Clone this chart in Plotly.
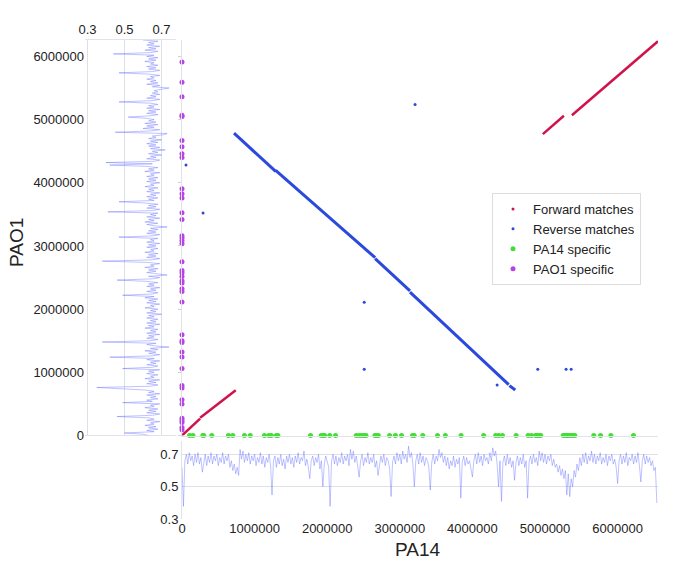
import numpy as np
import plotly.graph_objects as go

W, H = 685, 572
FONT = 'Liberation Sans, Arial, Helvetica, sans-serif'

# match segments: start (PA14, PAO1) -> end (PA14, PAO1)
fwd_x0 = [0, 250000, 4970000, 5370000]
fwd_y0 = [0, 280000, 4770000, 5070000]
fwd_x1 = [250000, 740000, 5260000, 6556000]
fwd_y1 = [268000, 715000, 5060000, 6240000]

rev_x0 = [716000, 1290000, 2660000, 3140000, 4510000]
rev_y0 = [4786000, 4195000, 2800000, 2270000, 790000]
rev_x1 = [1290000, 2660000, 3140000, 4500000, 4590000]
rev_y1 = [4180000, 2815000, 2290000, 805000, 720000]

# isolated reverse hits
rev_dot_x = [55000, 290000, 3210000, 2510000, 2510000, 4340000, 4900000, 5290000, 5360000]
rev_dot_y = [4280000, 3520000, 5240000, 2110000, 1050000, 800000, 1050000, 1050000, 1050000]

# strain specific regions
pa14_specific = [104000, 151000, 287000, 300000, 410000, 640000, 700000, 860000, 940000,
                 1135000, 1196000, 1230000, 1300000, 1320000, 1770000, 1917000, 1950000,
                 1964000, 2035000, 2115000, 2400000, 2445000, 2478000, 2506000, 2534000,
                 2657000, 2680000, 2704000, 2859000, 2939000, 3024000, 3175000, 3198000,
                 3316000, 3519000, 3627000, 3844000, 4155000, 4320000, 4362000, 4414000,
                 4602000, 4767000, 4814000, 4870000, 4894000, 4918000, 4941000, 5250000,
                 5270000, 5290000, 5310000, 5330000, 5350000, 5370000, 5390000, 5410000,
                 5671000, 5765000, 5907000, 6218000]
pao1_specific = [5910000, 5590000, 5360000, 5070000, 5050000, 4670000, 4570000, 4460000,
                 4400000, 3905000, 3826000, 3758000, 3525000, 3420000, 3161000, 3125000,
                 3082000, 3035000, 2750000, 2612000, 2571000, 2517000, 2449000, 2413000,
                 2322000, 2280000, 2112000, 1594000, 1499000, 1472000, 1320000, 1241000,
                 1061000, 790000, 750000, 565000, 500000, 275000, 237000, 206000, 127000,
                 90000]

# GC content, 20 kb windows
gc_step = 20000
gc_pa14 = [0.62, 0.38, 0.66, 0.70, 0.64, 0.71, 0.66, 0.69, 0.63, 0.70,
           0.65, 0.71, 0.64, 0.68, 0.59, 0.66, 0.70, 0.63, 0.69, 0.65,
           0.71, 0.64, 0.69, 0.66, 0.70, 0.63, 0.68, 0.65, 0.71, 0.64,
           0.69, 0.66, 0.70, 0.62, 0.66, 0.60, 0.64, 0.58, 0.62, 0.57,
           0.73, 0.67, 0.72, 0.65, 0.70, 0.66, 0.71, 0.64, 0.69, 0.66,
           0.70, 0.63, 0.68, 0.65, 0.71, 0.64, 0.69, 0.62, 0.68, 0.65,
           0.70, 0.63, 0.45, 0.66, 0.69, 0.62, 0.68, 0.64, 0.70, 0.63,
           0.67, 0.61, 0.69, 0.65, 0.70, 0.64, 0.68, 0.62, 0.69, 0.65,
           0.71, 0.64, 0.68, 0.66, 0.72, 0.63, 0.67, 0.62, 0.55, 0.66,
           0.69, 0.63, 0.68, 0.65, 0.70, 0.61, 0.66, 0.50, 0.64, 0.69,
           0.65, 0.62, 0.38, 0.66, 0.70, 0.64, 0.69, 0.63, 0.68, 0.65,
           0.71, 0.64, 0.69, 0.66, 0.70, 0.63, 0.73, 0.67, 0.72, 0.65,
           0.69, 0.62, 0.56, 0.66, 0.70, 0.63, 0.68, 0.65, 0.71, 0.64,
           0.68, 0.65, 0.70, 0.62, 0.66, 0.57, 0.64, 0.69, 0.65, 0.70,
           0.63, 0.68, 0.66, 0.61, 0.44, 0.65, 0.69, 0.64, 0.71, 0.66,
           0.70, 0.64, 0.72, 0.67, 0.70, 0.65, 0.75, 0.68, 0.71, 0.64,
           0.50, 0.66, 0.70, 0.64, 0.71, 0.65, 0.69, 0.63, 0.68, 0.66,
           0.62, 0.48, 0.65, 0.70, 0.64, 0.69, 0.66, 0.73, 0.68, 0.71,
           0.65, 0.69, 0.63, 0.68, 0.61, 0.66, 0.63, 0.69, 0.62, 0.67,
           0.64, 0.68, 0.43, 0.65, 0.69, 0.63, 0.68, 0.64, 0.66, 0.61,
           0.56, 0.66, 0.70, 0.64, 0.71, 0.65, 0.69, 0.63, 0.70, 0.66,
           0.68, 0.64, 0.71, 0.66, 0.74, 0.69, 0.72, 0.64, 0.50, 0.66,
           0.41, 0.65, 0.69, 0.63, 0.70, 0.64, 0.68, 0.62, 0.66, 0.54,
           0.65, 0.69, 0.63, 0.68, 0.64, 0.70, 0.62, 0.66, 0.43, 0.65,
           0.69, 0.64, 0.70, 0.65, 0.68, 0.63, 0.72, 0.66, 0.71, 0.65,
           0.70, 0.64, 0.69, 0.66, 0.70, 0.63, 0.67, 0.62, 0.64, 0.59,
           0.63, 0.57, 0.61, 0.55, 0.60, 0.45, 0.58, 0.44, 0.55, 0.50,
           0.60, 0.56, 0.64, 0.60, 0.68, 0.63, 0.70, 0.65, 0.71, 0.64,
           0.69, 0.66, 0.72, 0.65, 0.70, 0.64, 0.69, 0.66, 0.71, 0.64,
           0.68, 0.65, 0.70, 0.63, 0.69, 0.66, 0.70, 0.64, 0.67, 0.62,
           0.52, 0.66, 0.70, 0.64, 0.69, 0.65, 0.71, 0.63, 0.68, 0.66,
           0.70, 0.64, 0.69, 0.65, 0.71, 0.63, 0.53, 0.66, 0.70, 0.64,
           0.69, 0.65, 0.68, 0.63, 0.66, 0.60, 0.62, 0.40]
gc_pao1 = [0.63, 0.60, 0.50, 0.66, 0.62, 0.68, 0.63, 0.67, 0.61, 0.66,
           0.64, 0.69, 0.62, 0.66, 0.63, 0.46, 0.65, 0.69, 0.62, 0.67,
           0.63, 0.68, 0.61, 0.66, 0.64, 0.69, 0.49, 0.65, 0.62, 0.68,
           0.64, 0.67, 0.62, 0.69, 0.63, 0.66, 0.61, 0.43, 0.35, 0.64,
           0.68, 0.62, 0.67, 0.63, 0.69, 0.61, 0.66, 0.64, 0.68, 0.62,
           0.66, 0.63, 0.69, 0.49, 0.65, 0.68, 0.62, 0.67, 0.64, 0.69,
           0.62, 0.66, 0.42, 0.65, 0.69, 0.63, 0.67, 0.61, 0.68, 0.64,
           0.74, 0.66, 0.62, 0.67, 0.38, 0.64, 0.68, 0.62, 0.66, 0.63,
           0.69, 0.62, 0.67, 0.64, 0.68, 0.61, 0.66, 0.63, 0.69, 0.62,
           0.67, 0.64, 0.68, 0.62, 0.66, 0.63, 0.70, 0.62, 0.67, 0.64,
           0.68, 0.61, 0.66, 0.64, 0.69, 0.62, 0.67, 0.63, 0.68, 0.61,
           0.66, 0.49, 0.65, 0.68, 0.62, 0.67, 0.64, 0.69, 0.62, 0.66,
           0.63, 0.68, 0.62, 0.46, 0.65, 0.69, 0.63, 0.73, 0.66, 0.62,
           0.67, 0.63, 0.68, 0.61, 0.66, 0.64, 0.69, 0.62, 0.38, 0.65,
           0.69, 0.62, 0.67, 0.63, 0.68, 0.61, 0.66, 0.64, 0.68, 0.62,
           0.67, 0.63, 0.69, 0.62, 0.66, 0.64, 0.68, 0.47, 0.65, 0.69,
           0.62, 0.67, 0.63, 0.68, 0.64, 0.73, 0.66, 0.62, 0.68, 0.61,
           0.66, 0.63, 0.69, 0.62, 0.67, 0.64, 0.68, 0.41, 0.65, 0.69,
           0.62, 0.67, 0.63, 0.68, 0.61, 0.47, 0.66, 0.63, 0.68, 0.62,
           0.67, 0.64, 0.69, 0.62, 0.66, 0.63, 0.68, 0.61, 0.66, 0.64,
           0.69, 0.62, 0.67, 0.63, 0.68, 0.62, 0.66, 0.64, 0.69, 0.61,
           0.66, 0.63, 0.68, 0.62, 0.42, 0.65, 0.40, 0.66, 0.69, 0.62,
           0.67, 0.64, 0.70, 0.63, 0.68, 0.65, 0.72, 0.64, 0.69, 0.63,
           0.67, 0.62, 0.68, 0.64, 0.70, 0.63, 0.67, 0.65, 0.71, 0.73,
           0.45, 0.64, 0.69, 0.60, 0.66, 0.62, 0.68, 0.61, 0.67, 0.63,
           0.66, 0.62, 0.52, 0.64, 0.68, 0.62, 0.67, 0.63, 0.69, 0.62,
           0.66, 0.63, 0.68, 0.64, 0.47, 0.65, 0.69, 0.62, 0.67, 0.64,
           0.69, 0.65, 0.68, 0.66, 0.70, 0.74, 0.65, 0.69, 0.62, 0.68,
           0.64, 0.67, 0.62, 0.66, 0.64, 0.69, 0.63, 0.47, 0.65, 0.69,
           0.63, 0.67, 0.62, 0.68, 0.64, 0.66, 0.61, 0.67, 0.63, 0.68,
           0.62, 0.66, 0.44, 0.64, 0.68, 0.61, 0.67, 0.63, 0.69, 0.62,
           0.66, 0.63, 0.68, 0.60]

pos_ticks = [0, 1000000, 2000000, 3000000, 4000000, 5000000, 6000000]
gc_ticks = [0.3, 0.5, 0.7]

pa14_pos = np.arange(len(gc_pa14)) * gc_step
pao1_pos = np.arange(len(gc_pao1)) * gc_step


def segments(x0, y0, x1, y1):
    xs, ys = [], []
    for a, b, c, d in zip(x0, y0, x1, y1):
        xs += [a, c, None]
        ys += [b, d, None]
    return xs, ys


RED = '#d0134a'
BLUE = '#2b49dc'
GREEN = '#45dc38'
PURPLE = '#b743e8'
GC_LINE = 'rgba(95,105,255,0.5)'
GRID = '#dfdfe8'
LINE = '#e2e2ea'

fig = go.Figure()

fig.add_trace(go.Scatter(x=gc_pao1, y=pao1_pos, mode='lines', xaxis='x2', yaxis='y2',
                         line=dict(color=GC_LINE, width=0.8), showlegend=False, hoverinfo='skip'))
fig.add_trace(go.Scatter(x=pa14_pos, y=gc_pa14, mode='lines', xaxis='x3', yaxis='y3',
                         line=dict(color=GC_LINE, width=0.8), showlegend=False, hoverinfo='skip'))

fx, fy = segments(fwd_x0, fwd_y0, fwd_x1, fwd_y1)
fig.add_trace(go.Scatter(x=fx, y=fy, mode='lines', line=dict(color=RED, width=2.5),
                         showlegend=False, cliponaxis=False))
rx, ry = segments(rev_x0, rev_y0, rev_x1, rev_y1)
fig.add_trace(go.Scatter(x=rx, y=ry, mode='lines', line=dict(color=BLUE, width=3),
                         showlegend=False))
fig.add_trace(go.Scatter(x=rev_dot_x, y=rev_dot_y, mode='markers',
                         marker=dict(color=BLUE, size=3), showlegend=False))

# legend entries for the match traces
fig.add_trace(go.Scatter(x=[None], y=[None], mode='markers', name='Forward matches',
                         marker=dict(color=RED, size=3)))
fig.add_trace(go.Scatter(x=[None], y=[None], mode='markers', name='Reverse matches',
                         marker=dict(color=BLUE, size=3)))

fig.add_trace(go.Scatter(x=pa14_specific, y=[0] * len(pa14_specific), mode='markers',
                         name='PA14 specific', marker=dict(color=GREEN, size=5),
                         cliponaxis=False))
fig.add_trace(go.Scatter(x=[0] * len(pao1_specific), y=pao1_specific, mode='markers',
                         name='PAO1 specific', marker=dict(color=PURPLE, size=5),
                         cliponaxis=False))

x_dom = [182 / W, 658 / W]
y_dom = [1 - 435.5 / H, 1 - 40 / H]
x_rng = [0, 6556000]
y_rng = [0, 6260000]
tickfont = dict(family=FONT, size=13, color='#222')

fig.update_layout(
    width=W, height=H,
    margin=dict(l=0, r=0, t=0, b=0, autoexpand=False),
    plot_bgcolor='white', paper_bgcolor='white',
    font=dict(family=FONT, color='#222'),
    xaxis=dict(domain=x_dom, range=x_rng, anchor='y', showticklabels=False, showgrid=False,
               zeroline=False, showline=True, linecolor=LINE, linewidth=1, automargin=False),
    yaxis=dict(domain=y_dom, range=y_rng, anchor='x', showticklabels=False, showgrid=False,
               zeroline=False, showline=True, linecolor=LINE, linewidth=1, automargin=False,
               ticks='outside', ticklen=3, tickcolor='#d0d0d8', tickvals=pos_ticks),
    xaxis2=dict(domain=[85 / W, 176 / W], range=[0.2865, 0.778], anchor='y2', side='top',
                tickvals=gc_ticks, tickfont=tickfont, showgrid=True, gridcolor=GRID,
                zeroline=False, showline=True, linecolor=LINE, automargin=False),
    yaxis2=dict(domain=y_dom, range=y_rng, anchor='x2', tickvals=pos_ticks, tickformat='d',
                tickfont=tickfont, showgrid=False, zeroline=True, zerolinecolor=LINE,
                zerolinewidth=1, showline=False, automargin=False),
    xaxis3=dict(domain=x_dom, range=x_rng, anchor='y3', tickvals=pos_ticks, tickformat='d',
                tickfont=tickfont, showgrid=False, zeroline=False, showline=False,
                automargin=False),
    yaxis3=dict(domain=[1 - 519.3 / H, 1 - 441.3 / H], range=[0.3, 0.78], anchor='x3',
                tickvals=gc_ticks, tickfont=tickfont, showgrid=True, gridcolor=GRID,
                zeroline=False, showline=True, linecolor=LINE, automargin=False),
    legend=dict(x=492 / W, y=1 - 193 / H, xanchor='left', yanchor='top',
                bordercolor='#dddddd', borderwidth=1, bgcolor='white',
                font=dict(family=FONT, size=13, color='#222')),
    annotations=[
        dict(text='PA14', x=418 / W, y=1 - 549 / H, xref='paper', yref='paper',
             xanchor='center', yanchor='middle', showarrow=False,
             font=dict(family=FONT, size=19, color='#222')),
        dict(text='PAO1', x=17 / W, y=1 - 243 / H, xref='paper', yref='paper',
             xanchor='center', yanchor='middle', showarrow=False, textangle=-90,
             font=dict(family=FONT, size=19, color='#222')),
    ],
)

fig.write_html("out.html", config={'displayModeBar': False},
               post_script="document.body.style.margin = '0px';")
